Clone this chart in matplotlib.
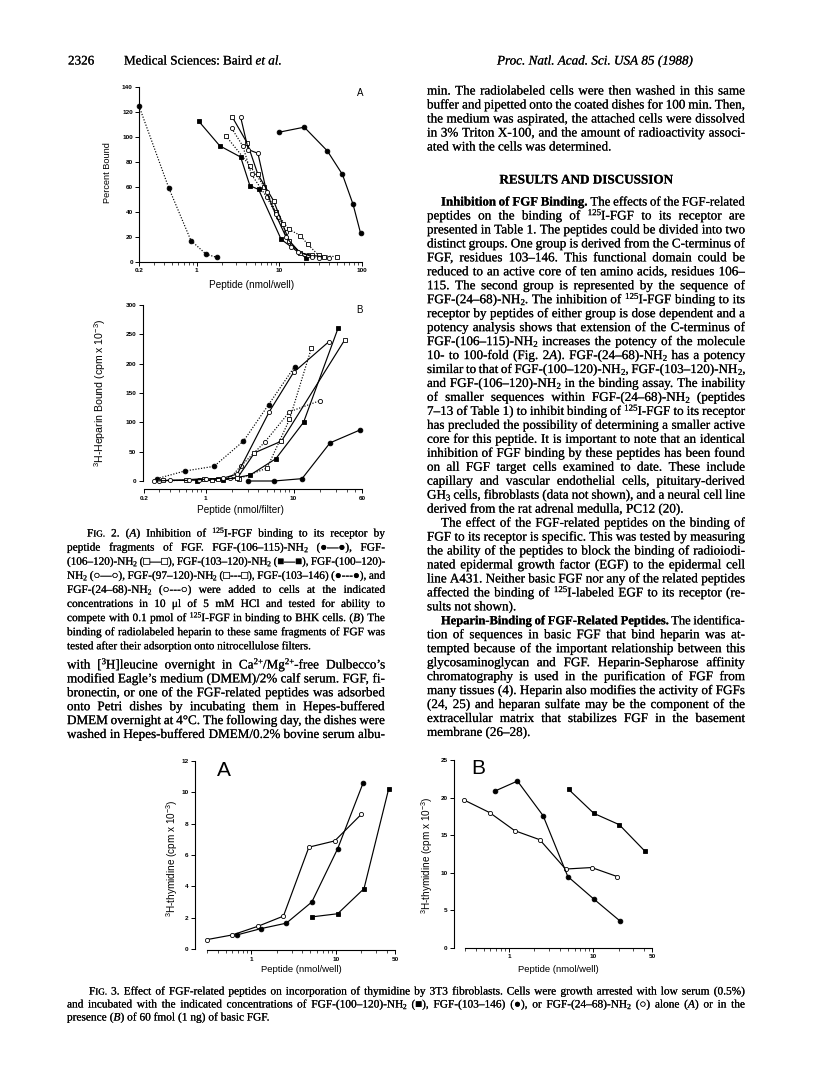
import re
import matplotlib
matplotlib.use("Agg")
import matplotlib.pyplot as plt
import matplotlib.patheffects as pe
import numpy as np
from matplotlib.font_manager import FontProperties
from matplotlib.ticker import FixedLocator, FixedFormatter, NullFormatter

W, H = 816, 1078

plt.rcParams["mathtext.fontset"] = "custom"
plt.rcParams["mathtext.rm"] = "Liberation Sans"
plt.rcParams["mathtext.sf"] = "Liberation Sans"

# ---- Fig. 2A: percent bound vs peptide (nmol/well)
f2a_x_106_115 = [10, 20, 38, 58, 78, 96]
f2a_y_106_115 = [104, 108, 89, 70, 46, 23]
f2a_x_106_120 = [2.7, 4.1, 5.5, 8.5, 11, 13, 18, 25, 35]
f2a_y_106_120 = [116, 95, 70, 49, 30, 17, 7, 5, 4]
f2a_x_103_120 = [1.05, 1.9, 3.4, 4.4, 5.6, 10.5, 21]
f2a_y_103_120 = [113, 93, 84, 61, 58, 18, 3]
f2a_x_100_120 = [3.4, 4.2, 5.5, 7, 9, 12, 17, 25]
f2a_y_100_120 = [116, 90, 87, 56, 38, 20, 8, 4]
f2a_x_97_120 = [2.25, 4.4, 6.6, 9, 13, 18, 22, 30, 50]
f2a_y_97_120 = [101, 77, 60, 40, 26, 21, 14, 5, 4]
f2a_x_103_146 = [0.2, 0.46, 0.85, 1.3, 1.75]
f2a_y_103_146 = [125, 59, 17, 6, 3.5]
f2a_x_24_68 = [2.65, 3.6, 4.6, 7, 9.5, 12, 14, 22, 30, 40]
f2a_y_24_68 = [107, 93, 70, 52, 36, 24, 12, 5, 3, 3]

# ---- Fig. 2B: heparin bound vs peptide (nmol/filter)
f2b_x_106_115 = [3.0, 6.0, 12.5, 26, 57]
f2b_y_106_115 = [0, 0, 4, 65, 87]
f2b_x_106_120 = [0.33, 0.6, 0.95, 1.4, 2.3, 3.6, 7.3, 38]
f2b_y_106_120 = [1, 2, 4, 3, 5, 48, 68, 240]
f2b_x_103_120 = [0.8, 1.6, 3.2, 6.3, 13, 32]
f2b_y_103_120 = [0, 2, 10, 38, 100, 260]
f2b_x_100_120 = [0.26, 0.4, 0.65, 1.0, 1.6, 2.3, 5.3, 10, 25]
f2b_y_100_120 = [0, 1, 1, 3, 5, 12, 118, 185, 237]
f2b_x_97_120 = [1.2, 2.4, 5.0, 9.0, 16]
f2b_y_97_120 = [2, 4, 22, 105, 227]
f2b_x_103_146 = [0.28, 0.58, 1.25, 2.7, 5.2, 10.3]
f2b_y_103_146 = [4, 17, 25, 68, 130, 195]
f2b_x_24_68 = [0.3, 0.85, 1.9, 2.5, 4.7, 9.0, 20]
f2b_y_24_68 = [0, 2, 5, 25, 66, 118, 137]

# ---- Fig. 3A: thymidine incorporation, peptide alone
f3a_x_100_120 = [5.2, 10.5, 21.5, 42]
f3a_y_100_120 = [2.05, 2.25, 3.85, 10.2]
f3a_x_103_146 = [0.68, 1.3, 2.6, 5.2, 10.5, 21]
f3a_y_103_146 = [0.9, 1.3, 1.65, 3.0, 6.4, 10.6]
f3a_x_24_68 = [0.3, 0.6, 1.2, 2.4, 4.8, 9.7, 20]
f3a_y_24_68 = [0.6, 0.9, 1.45, 2.1, 6.5, 6.9, 8.6]

# ---- Fig. 3B: thymidine incorporation, with 60 fmol basic FGF
f3b_x_100_120 = [5.1, 10.2, 20.4, 41]
f3b_y_100_120 = [21.1, 17.9, 16.4, 12.9]
f3b_x_103_146 = [0.69, 1.26, 2.54, 5.0, 10.2, 20.8]
f3b_y_103_146 = [20.9, 22.2, 17.6, 9.5, 6.5, 3.6]
f3b_x_24_68 = [0.29, 0.59, 1.17, 2.32, 4.7, 9.6, 19.3]
f3b_y_24_68 = [19.7, 18.0, 15.6, 14.4, 10.5, 10.7, 9.5]

fig = plt.figure(figsize=(W / 100, H / 100), dpi=100)
fig.patch.set_facecolor("white")
renderer = fig.canvas.get_renderer()

SERIF = ["Liberation Serif", "DejaVu Serif"]
SANS = ["Liberation Sans", "DejaVu Sans"]
BASE = 3.5
INK = [pe.withStroke(linewidth=0.1, foreground="black")]
SEG = re.compile(r"([\^_!#]\{[^}]*\})")


def fp(size, weight="normal", style="normal"):
    return FontProperties(family=SERIF, size=size, weight=weight, style=style)


def tw(s, prop):
    w, h, d = renderer.get_text_width_height_descent(s, prop, ismath=False)
    return w


def token_segs(tok, size):
    weight, style = "normal", "normal"
    if tok.startswith("*"):
        tok, weight = tok[1:], "bold"
    elif tok.startswith("~"):
        tok, style = tok[1:], "italic"
    em = size * 100 / 72
    segs = []
    for part in SEG.split(tok):
        if not part:
            continue
        kind = part[0] if SEG.fullmatch(part) else ""
        txt = part[2:-1] if kind else part
        if kind == "^":
            p, dy = fp(size * 0.68, weight, style), 0.33 * em
        elif kind == "_":
            p, dy = fp(size * 0.68, weight, style), -0.14 * em
        elif kind == "!":
            p, dy = fp(size, weight, "italic"), 0
        elif kind == "#":
            p, dy = fp(size * 0.8, weight, style), 0
        else:
            p, dy = fp(size, weight, style), 0
        segs.append((txt, p, dy, tw(txt, p)))
    return segs


def measure(text, size):
    toks = [token_segs(t, size) for t in text.split(" ") if t]
    return toks, [sum(s[3] for s in t) for t in toks]


def space_w(size):
    p = fp(size)
    return tw("n n", p) - tw("nn", p)


def fit_size(block, x0, x1, s0=10.0, q=0.2):
    ratios = []
    sp = space_w(s0)
    for indent, mode, text, y in block:
        if mode != "j":
            continue
        toks, ws = measure(text, s0)
        nat = sum(ws) + sp * (len(ws) - 1)
        ratios.append((x1 - x0 - indent) / nat)
    return s0 * float(np.quantile(ratios, q))


def draw_block(block, x0, x1, size):
    for indent, mode, text, y in block:
        sz = size
        sp = space_w(sz)
        toks, ws = measure(text, sz)
        left = x0 + indent
        avail = x1 - left
        if mode == "j" and len(ws) > 1:
            need = sum(ws) + 0.85 * sp * (len(ws) - 1)
            if need > avail:
                sz = size * avail / need
                sp = space_w(sz)
                toks, ws = measure(text, sz)
            gap = max((avail - sum(ws)) / (len(ws) - 1), 0.8 * sp)
        else:
            gap = sp
        x = left
        if mode == "c":
            x = (x0 + x1) / 2 - (sum(ws) + sp * (len(ws) - 1)) / 2
        for segs, w in zip(toks, ws):
            xs = x
            for txt, p, dy, sw in segs:
                fig.text(xs / W, 1 - (y + BASE - dy) / H, txt, fontproperties=p,
                         ha="left", va="baseline", path_effects=INK)
                xs += sw
            x += w + gap


# ---------------- text blocks ----------------
LX0, LX1 = 67, 385
RX0, RX1 = 427, 745

cap2_text = [
    (20, "j", "F#{IG.} 2. (!{A}) Inhibition of ^{125}I-FGF binding to its receptor by"),
    (0, "j", "peptide fragments of FGF. FGF-(106–115)-NH_{2} (●—●), FGF-"),
    (0, "j", "(106–120)-NH_{2} (□—□), FGF-(103–120)-NH_{2} (■—■), FGF-(100–120)-"),
    (0, "j", "NH_{2} (○—○), FGF-(97–120)-NH_{2} (□---□), FGF-(103–146) (●---●), and"),
    (0, "j", "FGF-(24–68)-NH_{2} (○---○) were added to cells at the indicated"),
    (0, "j", "concentrations in 10 μl of 5 mM HCl and tested for ability to"),
    (0, "j", "compete with 0.1 pmol of ^{125}I-FGF in binding to BHK cells. (!{B}) The"),
    (0, "j", "binding of radiolabeled heparin to these same fragments of FGF was"),
    (0, "l", "tested after their adsorption onto nitrocellulose filters."),
]
cap2 = [(i, m, t, 533 + 14.1 * k) for k, (i, m, t) in enumerate(cap2_text)]

left_body_text = [
    "with [^{3}H]leucine overnight in Ca^{2+}/Mg^{2+}-free Dulbecco’s",
    "modified Eagle’s medium (DMEM)/2% calf serum. FGF, fi-",
    "bronectin, or one of the FGF-related peptides was adsorbed",
    "onto Petri dishes by incubating them in Hepes-buffered",
    "DMEM overnight at 4°C. The following day, the dishes were",
    "washed in Hepes-buffered DMEM/0.2% bovine serum albu-",
]
left_body = [(0, "j", t, 665 + 13.9 * k) for k, t in enumerate(left_body_text)]

right_top_text = [
    "min. The radiolabeled cells were then washed in this same",
    "buffer and pipetted onto the coated dishes for 100 min. Then,",
    "the medium was aspirated, the attached cells were dissolved",
    "in 3% Triton X-100, and the amount of radioactivity associ-",
    "ated with the cells was determined.",
]
right_top = [(0, "j" if k < 4 else "l", t, 91 + 14 * k) for k, t in enumerate(right_top_text)]
right_top.append((0, "c", "*RESULTS *AND *DISCUSSION", 180))

right_text = [
    (14, "j", "*Inhibition *of *FGF *Binding. The effects of the FGF-related"),
    (0, "j", "peptides on the binding of ^{125}I-FGF to its receptor are"),
    (0, "j", "presented in Table 1. The peptides could be divided into two"),
    (0, "j", "distinct groups. One group is derived from the C-terminus of"),
    (0, "j", "FGF, residues 103–146. This functional domain could be"),
    (0, "j", "reduced to an active core of ten amino acids, residues 106–"),
    (0, "j", "115. The second group is represented by the sequence of"),
    (0, "j", "FGF-(24–68)-NH_{2}. The inhibition of ^{125}I-FGF binding to its"),
    (0, "j", "receptor by peptides of either group is dose dependent and a"),
    (0, "j", "potency analysis shows that extension of the C-terminus of"),
    (0, "j", "FGF-(106–115)-NH_{2} increases the potency of the molecule"),
    (0, "j", "10- to 100-fold (Fig. 2!{A}). FGF-(24–68)-NH_{2} has a potency"),
    (0, "j", "similar to that of FGF-(100–120)-NH_{2}, FGF-(103–120)-NH_{2},"),
    (0, "j", "and FGF-(106–120)-NH_{2} in the binding assay. The inability"),
    (0, "j", "of smaller sequences within FGF-(24–68)-NH_{2} (peptides"),
    (0, "j", "7–13 of Table 1) to inhibit binding of ^{125}I-FGF to its receptor"),
    (0, "j", "has precluded the possibility of determining a smaller active"),
    (0, "j", "core for this peptide. It is important to note that an identical"),
    (0, "j", "inhibition of FGF binding by these peptides has been found"),
    (0, "j", "on all FGF target cells examined to date. These include"),
    (0, "j", "capillary and vascular endothelial cells, pituitary-derived"),
    (0, "j", "GH_{3} cells, fibroblasts (data not shown), and a neural cell line"),
    (0, "l", "derived from the rat adrenal medulla, PC12 (20)."),
    (14, "j", "The effect of the FGF-related peptides on the binding of"),
    (0, "j", "FGF to its receptor is specific. This was tested by measuring"),
    (0, "j", "the ability of the peptides to block the binding of radioiodi-"),
    (0, "j", "nated epidermal growth factor (EGF) to the epidermal cell"),
    (0, "j", "line A431. Neither basic FGF nor any of the related peptides"),
    (0, "j", "affected the binding of ^{125}I-labeled EGF to its receptor (re-"),
    (0, "l", "sults not shown)."),
    (14, "j", "*Heparin-Binding *of *FGF-Related *Peptides. The identifica-"),
    (0, "j", "tion of sequences in basic FGF that bind heparin was at-"),
    (0, "j", "tempted because of the important relationship between this"),
    (0, "j", "glycosaminoglycan and FGF. Heparin-Sepharose affinity"),
    (0, "j", "chromatography is used in the purification of FGF from"),
    (0, "j", "many tissues (4). Heparin also modifies the activity of FGFs"),
    (0, "j", "(24, 25) and heparan sulfate may be the component of the"),
    (0, "j", "extracellular matrix that stabilizes FGF in the basement"),
    (0, "l", "membrane (26–28)."),
]
right_body = [(i, m, t, 202 + 13.96 * k) for k, (i, m, t) in enumerate(right_text)]

cap3_text = [
    (22, "j", "F#{IG.} 3. Effect of FGF-related peptides on incorporation of thymidine by 3T3 fibroblasts. Cells were growth arrested with low serum (0.5%)"),
    (0, "j", "and incubated with the indicated concentrations of FGF-(100–120)-NH_{2} (■), FGF-(103–146) (●), or FGF-(24–68)-NH_{2} (○) alone (!{A}) or in the"),
    (0, "l", "presence (!{B}) of 60 fmol (1 ng) of basic FGF."),
]
cap3 = [(i, m, t, 991 + 13 * k) for k, (i, m, t) in enumerate(cap3_text)]

body_size = min(fit_size(right_body, RX0, RX1), fit_size(left_body + right_top, LX0, LX1))
cap_size = min(fit_size(cap2, LX0, LX1), fit_size(cap3, LX0, RX1))

draw_block(cap2, LX0, LX1, cap_size)
draw_block(left_body, LX0, LX1, body_size)
draw_block(right_top, RX0, RX1, body_size)
draw_block(right_body, RX0, RX1, body_size)
draw_block(cap3, LX0, RX1, cap_size)

# running head
draw_block([(0, "l", "2326", 61)], 68, 120, body_size)
draw_block([(0, "l", "Medical Sciences: Baird ~et ~al.", 61)], 124, 400, body_size)
draw_block([(0, "l", "~Proc. ~Natl. ~Acad. ~Sci. ~USA ~85 ~(1988)", 61)], 497, 745, body_size)

# ---------------- plots ----------------
DOT = (0, (1, 1.4))
FILL_C = dict(marker="o", ms=3.4, mfc="k")
OPEN_C = dict(marker="o", ms=3.0, mfc="white")
FILL_S = dict(marker="s", ms=3.4, mfc="k")
OPEN_S = dict(marker="s", ms=3.4, mfc="white")


def series(ax, x, y, style, ls="-"):
    ax.plot(x, y, ls=ls, lw=0.85, color="k", mec="k", mew=0.6,
            clip_on=False, zorder=3, **style)


def make_ax(l, r, t, b, xlim, ylim, yticks, xmaj, xlab, xmin, lout=0, bout=0):
    ax = fig.add_axes([l / W, 1 - b / H, (r - l) / W, (b - t) / H])
    ax.patch.set_alpha(0)
    ax.set_xscale("log")
    ax.set_xlim(*xlim)
    ax.set_ylim(*ylim)
    for s in ("top", "right"):
        ax.spines[s].set_visible(False)
    ax.spines["left"].set_position(("outward", lout))
    ax.spines["bottom"].set_position(("outward", bout))
    for s in ("left", "bottom"):
        ax.spines[s].set_linewidth(0.8)
    ax.xaxis.set_major_locator(FixedLocator(xmaj))
    ax.xaxis.set_major_formatter(FixedFormatter(xlab))
    ax.xaxis.set_minor_locator(FixedLocator(xmin))
    ax.xaxis.set_minor_formatter(NullFormatter())
    ax.set_yticks(yticks)
    ax.tick_params(which="major", length=3, width=0.7, labelsize=4.6, pad=1.5)
    ax.tick_params(which="minor", length=1.8, width=0.5)
    for lab in ax.get_xticklabels() + ax.get_yticklabels():
        lab.set_fontfamily(SANS)
        lab.set_fontweight("bold")
    return ax


def label(x, y, s, size=6.0, rot=0):
    fig.text(x / W, 1 - y / H, s, fontsize=size, rotation=rot, ha="center",
             va="center", family=SANS)


minors_a = [0.3, 0.4, 0.5, 0.6, 0.7, 0.8, 0.9, 2, 3, 4, 5, 6, 7, 8, 9,
            20, 30, 40, 50, 60, 70, 80, 90]

# Fig. 2A
ax = make_ax(139, 362, 87.3, 261.7, (0.2, 100), (0, 140), range(0, 141, 20),
             [0.2, 1, 10, 100], ["0.2", "1", "10", "100"], minors_a)
series(ax, f2a_x_106_115, f2a_y_106_115, FILL_C)
series(ax, f2a_x_103_146, f2a_y_103_146, FILL_C, DOT)
series(ax, f2a_x_103_120, f2a_y_103_120, FILL_S)
series(ax, f2a_x_97_120, f2a_y_97_120, OPEN_S, DOT)
series(ax, f2a_x_24_68, f2a_y_24_68, OPEN_C, DOT)
series(ax, f2a_x_106_120, f2a_y_106_120, OPEN_S)
series(ax, f2a_x_100_120, f2a_y_100_120, OPEN_C)
label(108, 173, "Percent Bound", size=6.6, rot=90)
label(252, 285, "Peptide (nmol/well)", size=7.2)
label(360, 93, "A", size=7)

# Fig. 2B
ax = make_ax(144, 362, 305, 481, (0.2, 60), (0, 300), range(0, 301, 50),
             [0.2, 1, 10, 60], ["0.2", "1", "10", "60"],
             [0.3, 0.4, 0.5, 0.6, 0.7, 0.8, 0.9, 2, 3, 4, 5, 6, 7, 8, 9, 20, 30, 40, 50],
             lout=1, bout=6)
series(ax, f2b_x_106_115, f2b_y_106_115, FILL_C)
series(ax, f2b_x_103_146, f2b_y_103_146, FILL_C, DOT)
series(ax, f2b_x_103_120, f2b_y_103_120, FILL_S)
series(ax, f2b_x_97_120, f2b_y_97_120, OPEN_S, DOT)
series(ax, f2b_x_24_68, f2b_y_24_68, OPEN_C, DOT)
series(ax, f2b_x_106_120, f2b_y_106_120, OPEN_S)
series(ax, f2b_x_100_120, f2b_y_100_120, OPEN_C)
label(100, 393, "$^{\\mathsf{3}}$H-Heparin Bound (cpm x 10$^{\\mathsf{-3}}$)", size=7.6, rot=90)
label(240, 510, "Peptide (nmol/filter)", size=7.2)
label(359, 310, "B", size=7)

minors_3 = [0.3, 0.4, 0.5, 0.6, 0.7, 0.8, 0.9, 2, 3, 4, 5, 6, 7, 8, 9, 20, 30, 40]

# Fig. 3A
ax = make_ax(207, 395, 761, 949, (0.3, 50), (0, 12), range(0, 13, 2),
             [1, 10, 50], ["1", "10", "50"], minors_3, lout=9, bout=1)
series(ax, f3a_x_24_68, f3a_y_24_68, OPEN_C)
series(ax, f3a_x_103_146, f3a_y_103_146, FILL_C)
series(ax, f3a_x_100_120, f3a_y_100_120, FILL_S)
label(172, 858, "$^{\\mathsf{3}}$H-thymidine (cpm x 10$^{\\mathsf{-3}}$)", size=7.2, rot=90)
label(301, 969, "Peptide (nmol/well)", size=6.8)
label(224, 770, "A", size=15)

# Fig. 3B
ax = make_ax(465, 652, 760, 948, (0.3, 50), (0, 25), range(0, 26, 5),
             [1, 10, 50], ["1", "10", "50"], minors_3, lout=8, bout=0)
series(ax, f3b_x_24_68, f3b_y_24_68, OPEN_C)
series(ax, f3b_x_103_146, f3b_y_103_146, FILL_C)
series(ax, f3b_x_100_120, f3b_y_100_120, FILL_S)
label(427, 855, "$^{\\mathsf{3}}$H-thymidine (cpm x 10$^{\\mathsf{-3}}$)", size=7.2, rot=90)
label(558, 969, "Peptide (nmol/well)", size=6.8)
label(478, 768, "B", size=15)

fig.savefig("out.png", dpi=100, facecolor="white")
